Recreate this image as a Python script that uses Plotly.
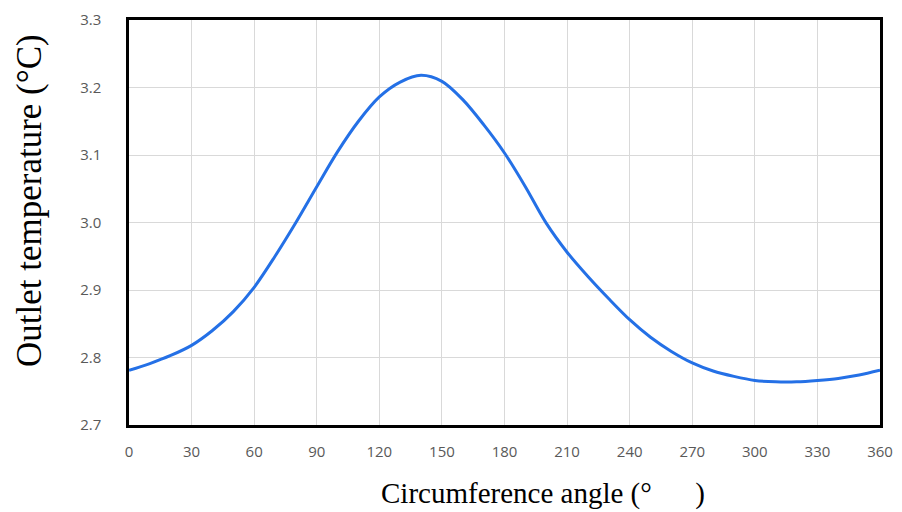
import plotly.graph_objects as go

angle = [0, 10, 20, 30, 40, 50, 60, 70, 80, 90, 100, 110, 120, 130, 140, 150, 160, 170,
         180, 190, 200, 210, 220, 230, 240, 250, 260, 270, 280, 290, 300, 310, 320, 330,
         340, 350, 360]
temperature = [2.781, 2.791, 2.803, 2.818, 2.840, 2.868, 2.904, 2.950, 3.000, 3.053,
               3.105, 3.150, 3.186, 3.208, 3.218, 3.209, 3.182, 3.145, 3.103, 3.053,
               2.999, 2.956, 2.920, 2.887, 2.856, 2.830, 2.809, 2.792, 2.780, 2.772,
               2.766, 2.764, 2.764, 2.766, 2.769, 2.774, 2.781]
x_ticks = list(range(0, 361, 30))
y_ticks = [2.7, 2.8, 2.9, 3.0, 3.1, 3.2, 3.3]

W, H = 902, 512
ML, MR, MT, MB = 121, 30, 12, 95
PW, PH = W - ML - MR, H - MT - MB


def paper_x(px):
    return (px - ML) / PW


def paper_y(py):
    return 1 - (py - MT) / PH


fig = go.Figure()
fig.add_trace(go.Scatter(x=angle, y=temperature, mode="lines",
                         line=dict(color="#2470e6", width=3, shape="spline", smoothing=0.9),
                         showlegend=False, hoverinfo="skip"))

tick_font = dict(family="Open Sans, Liberation Sans, sans-serif", size=15, color="#595959")
serif = "Liberation Serif, Times New Roman, serif"
fig.update_layout(
    width=W, height=H,
    margin=dict(l=ML, r=MR, t=MT, b=MB),
    paper_bgcolor="white", plot_bgcolor="white",
    xaxis=dict(range=[0, 360], tickvals=x_ticks, ticktext=[str(v) for v in x_ticks],
               showgrid=True, gridcolor="#d9d9d9", gridwidth=1,
               showline=True, linecolor="black", linewidth=2.5, mirror=True,
               ticks="", tickfont=tick_font, ticklabelstandoff=11, zeroline=False,
               automargin=False, ticklabeloverflow="allow"),
    yaxis=dict(range=[2.7, 3.3], tickvals=y_ticks, ticktext=[f"{v:.1f}" for v in y_ticks],
               showgrid=True, gridcolor="#d9d9d9", gridwidth=1,
               showline=True, linecolor="black", linewidth=2.5, mirror=True,
               ticks="", tickfont=tick_font, ticklabelstandoff=22, zeroline=False,
               automargin=False, ticklabeloverflow="allow"),
    annotations=[
        dict(text="Circumference angle (°\u3000\u2002)", x=paper_x(535), y=paper_y(486),
             xref="paper", yref="paper", xanchor="center", yanchor="middle", showarrow=False,
             font=dict(family=serif, size=29, color="black")),
        dict(text="Outlet temperature (°C)", x=paper_x(22), y=paper_y(193),
             xref="paper", yref="paper", xanchor="center", yanchor="middle",
             textangle=-90, showarrow=False,
             font=dict(family=serif, size=35, color="black")),
    ],
)

fig.write_html("out.html")
